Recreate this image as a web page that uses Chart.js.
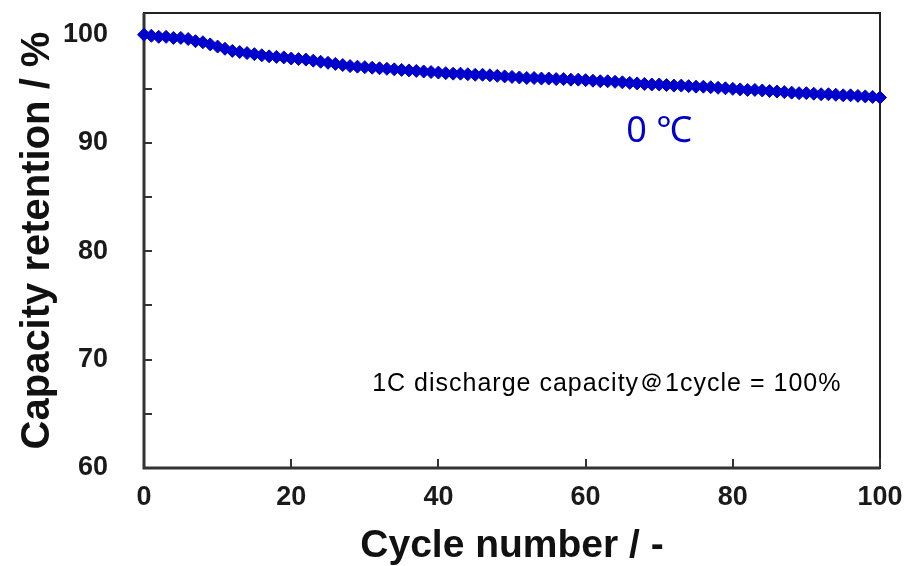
<!DOCTYPE html>
<html>
<head>
<meta charset="utf-8">
<script src="https://cdn.jsdelivr.net/npm/chart.js@4.4.1/dist/chart.umd.min.js"></script>
<style>
  html, body { margin: 0; padding: 0; background: #fff; }
</style>
</head>
<body>
<canvas id="chart" width="907" height="566"></canvas>
<script>
// cycle number (x) and capacity retention in % (y)
const cycles = [
  0, 1, 2, 3, 4, 5, 6, 7, 8, 9,
  10, 11, 12, 13, 14, 15, 16, 17, 18, 19,
  20, 21, 22, 23, 24, 25, 26, 27, 28, 29,
  30, 31, 32, 33, 34, 35, 36, 37, 38, 39,
  40, 41, 42, 43, 44, 45, 46, 47, 48, 49,
  50, 51, 52, 53, 54, 55, 56, 57, 58, 59,
  60, 61, 62, 63, 64, 65, 66, 67, 68, 69,
  70, 71, 72, 73, 74, 75, 76, 77, 78, 79,
  80, 81, 82, 83, 84, 85, 86, 87, 88, 89,
  90, 91, 92, 93, 94, 95, 96, 97, 98, 99,
  100
];
const retention = [
  100.0, 99.9, 99.8, 99.8, 99.7, 99.7, 99.6, 99.4, 99.3, 99.1,
  98.9, 98.7, 98.5, 98.4, 98.3, 98.2, 98.1, 98.0, 97.95, 97.9,
  97.8, 97.75, 97.7, 97.6, 97.5, 97.4, 97.3, 97.2, 97.1, 97.05,
  97.0, 96.95, 96.9, 96.85, 96.8, 96.75, 96.7, 96.65, 96.6, 96.55,
  96.5, 96.45, 96.4, 96.4, 96.35, 96.3, 96.3, 96.25, 96.2, 96.15,
  96.1, 96.05, 96.0, 96.0, 95.95, 95.95, 95.9, 95.9, 95.85, 95.85,
  95.8, 95.75, 95.7, 95.7, 95.65, 95.6, 95.55, 95.5, 95.45, 95.4,
  95.4, 95.35, 95.3, 95.3, 95.25, 95.2, 95.2, 95.15, 95.1, 95.05,
  95.0, 94.95, 94.9, 94.9, 94.85, 94.8, 94.75, 94.7, 94.65, 94.6,
  94.6, 94.55, 94.5, 94.5, 94.45, 94.4, 94.4, 94.35, 94.3, 94.25,
  94.2
];
const xTicks = [0, 20, 40, 60, 80, 100];
const yTicks = [60, 65, 70, 75, 80, 85, 90, 95, 100];
const tempLabel = '0 ℃';
const noteLabel = '1C discharge capacity＠1cycle = 100%';

const blue = '#0000cc';
const sans = "'Liberation Sans', Arial, sans-serif";

// box round the plot + inward tick marks
const frame = {
  id: 'frame',
  beforeDatasetsDraw(chart) {
    const { ctx, chartArea: a, scales: { x, y } } = chart;
    ctx.save();
    ctx.strokeStyle = '#222';
    ctx.lineWidth = 2;
    ctx.strokeRect(a.left, a.top, a.right - a.left, a.bottom - a.top);
    ctx.lineWidth = 3;
    ctx.strokeStyle = '#333';
    ctx.beginPath();
    ctx.moveTo(a.left, a.top);
    ctx.lineTo(a.left, a.bottom);
    ctx.lineTo(a.right, a.bottom);
    ctx.stroke();
    ctx.lineWidth = 2;
    ctx.beginPath();
    y.ticks.forEach(t => {
      const py = Math.round(y.getPixelForValue(t.value));
      ctx.moveTo(a.left, py);
      ctx.lineTo(a.left + 8, py);
    });
    x.ticks.forEach(t => {
      const px = Math.round(x.getPixelForValue(t.value));
      ctx.moveTo(px, a.bottom);
      ctx.lineTo(px, a.bottom - 9);
    });
    ctx.stroke();
    ctx.restore();
  }
};

// the two text notes inside the plot
const notes = {
  id: 'notes',
  afterDatasetsDraw(chart) {
    const { ctx, scales: { x, y } } = chart;
    ctx.save();
    ctx.fillStyle = blue;
    ctx.font = "36px 'Noto Sans', 'DejaVu Sans', sans-serif";
    ctx.textAlign = 'center';
    ctx.textBaseline = 'middle';
    ctx.fillText(tempLabel, x.getPixelForValue(70), y.getPixelForValue(91.0));

    ctx.fillStyle = '#000';
    ctx.font = '25px ' + sans;
    ctx.letterSpacing = '1px';
    ctx.textAlign = 'left';
    ctx.fillText(noteLabel, x.getPixelForValue(31.0), y.getPixelForValue(67.75));
    ctx.restore();
  }
};

const tickFont = { family: sans, size: 27, weight: 'bold' };
const titleFont = { family: sans, size: 39, weight: 'bold', lineHeight: 1 };

new Chart(document.getElementById('chart'), {
  type: 'scatter',
  data: {
    datasets: [{
      data: cycles.map((c, i) => ({ x: c, y: retention[i] })),
      pointStyle: 'rectRot',
      pointRadius: 6.5,
      pointBorderWidth: 1,
      backgroundColor: blue,
      borderColor: blue,
      showLine: false,
      clip: false
    }]
  },
  options: {
    responsive: false,
    animation: false,
    layout: { padding: { left: 0, top: 13, right: 27, bottom: 0 } },
    plugins: {
      legend: { display: false },
      tooltip: { enabled: false }
    },
    scales: {
      x: {
        type: 'linear',
        min: 0,
        max: 100,
        afterBuildTicks: s => { s.ticks = xTicks.map(v => ({ value: v })); },
        afterFit: s => { s.height = 98; s.paddingLeft = 0; s.paddingRight = 0; },
        grid: { display: false },
        border: { display: false },
        ticks: { font: tickFont, color: '#1a1a1a', padding: 5, maxRotation: 0, autoSkip: false },
        title: { display: true, text: 'Cycle number / -', font: titleFont, color: '#111', padding: { top: 0, bottom: 0 } }
      },
      y: {
        min: 60,
        max: 102,
        afterBuildTicks: s => { s.ticks = yTicks.map(v => ({ value: v })); },
        afterFit: s => { s.width = 144; s.paddingTop = 0; s.paddingBottom = 0; },
        grid: { display: false },
        border: { display: false },
        ticks: {
          font: tickFont,
          color: '#1a1a1a',
          padding: 28,
          autoSkip: false,
          callback: v => (v % 10 === 0 ? v : '')
        },
        title: { display: true, text: 'Capacity retention / %', font: { family: sans, size: 40, weight: 'bold', lineHeight: 1.2 }, color: '#111', padding: { top: 14, bottom: 0 } }
      }
    }
  },
  plugins: [frame, notes]
});
</script>
</body>
</html>
